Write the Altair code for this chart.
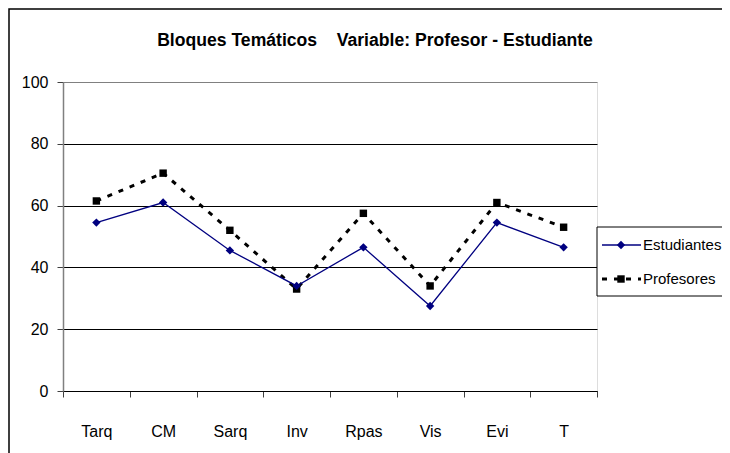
import altair as alt
import pandas as pd

categories = ["Tarq", "CM", "Sarq", "Inv", "Rpas", "Vis", "Evi", "T"]
estudiantes = [54.5, 61, 45.5, 34, 46.5, 27.5, 54.5, 46.5]
profesores = [61.5, 70.5, 52, 33, 57.5, 34, 61, 53]
series_names = ["Estudiantes", "Profesores"]
y_ticks = [0, 20, 40, 60, 80, 100]
title_text = "Bloques Temáticos\u00a0\u00a0\u00a0\u00a0Variable: Profesor - Estudiante"

rows = []
for name, vals in zip(series_names, [estudiantes, profesores]):
    for c, v in zip(categories, vals):
        rows.append({"cat": c, "value": v, "serie": name})
df = pd.DataFrame(rows)
legend_df = pd.DataFrame({"serie": series_names})
title_df = pd.DataFrame({"t": [title_text]})

W, H = 534, 309
FONT = "Liberation Sans"

x_enc = alt.X(
    "cat:N",
    sort=categories,
    scale=alt.Scale(type="band", paddingInner=0, paddingOuter=0),
    axis=alt.Axis(
        title=None,
        labelAngle=0,
        labelFont=FONT,
        labelFontSize=16,
        labelColor="black",
        labelPadding=26,
        tickBand="extent",
        tickSize=6,
        tickColor="#404040",
        domainColor="black",
        domainWidth=1.2,
        grid=False,
    ),
)
y_enc = alt.Y(
    "value:Q",
    scale=alt.Scale(domain=[0, 100], nice=False),
    axis=alt.Axis(
        title=None,
        values=y_ticks,
        labelFont=FONT,
        labelFontSize=16,
        labelColor="black",
        labelPadding=9,
        tickSize=6,
        tickColor="#404040",
        domainColor="#808080",
        domainWidth=1.5,
        grid=True,
        gridColor={"condition": {"test": "datum.value == 100", "value": "#808080"}, "value": "black"},
        gridWidth=1.2,
    ),
)

base = alt.Chart(df)

est_line = base.transform_filter(alt.datum.serie == "Estudiantes").mark_line(
    color="#000080", strokeWidth=1.3
).encode(x=x_enc, y=y_enc)
est_pts = base.transform_filter(alt.datum.serie == "Estudiantes").mark_point(
    shape="diamond", filled=True, color="#000080", size=70, opacity=1
).encode(x=x_enc, y=y_enc)

prof_line = base.transform_filter(alt.datum.serie == "Profesores").mark_line(
    color="black", strokeWidth=3, strokeDash=[5, 7], strokeCap="butt"
).encode(x=x_enc, y=y_enc)
prof_pts = base.transform_filter(alt.datum.serie == "Profesores").mark_point(
    shape="square", filled=True, color="black", size=55, opacity=1
).encode(x=x_enc, y=y_enc)

# outer frame
frame = alt.Chart(title_df).mark_rect(
    fillOpacity=0, stroke="black", strokeWidth=1.5
).encode(x=alt.value(-54), x2=alt.value(760), y=alt.value(-73), y2=alt.value(500))

# title
title = alt.Chart(title_df).mark_text(
    font=FONT, fontSize=17.6, fontWeight="bold", color="black",
    align="center", baseline="alphabetic"
).encode(text="t:N", x=alt.value(312), y=alt.value(-36))

# legend
leg_box = alt.Chart(title_df).mark_rect(
    fill="white", stroke="black", strokeWidth=1
).encode(x=alt.value(534), x2=alt.value(720), y=alt.value(145), y2=alt.value(214))

leg_layers = []
leg_y = {"Estudiantes": 163, "Profesores": 197}
for name in series_names:
    src = alt.Chart(legend_df).transform_filter(alt.datum.serie == name)
    if name == "Estudiantes":
        ln = src.mark_rule(color="#000080", strokeWidth=1.3)
        pt = src.mark_point(shape="diamond", filled=True, color="#000080", size=70, opacity=1)
    else:
        ln = src.mark_rule(color="black", strokeWidth=3, strokeDash=[5, 7], strokeCap="butt")
        pt = src.mark_point(shape="square", filled=True, color="black", size=55, opacity=1)
    leg_layers.append(ln.encode(x=alt.value(539), x2=alt.value(578), y=alt.value(leg_y[name])))
    leg_layers.append(pt.encode(x=alt.value(558), y=alt.value(leg_y[name])))
    leg_layers.append(
        src.mark_text(align="left", baseline="middle", font=FONT, fontSize=15, color="black").encode(
            text="serie:N", x=alt.value(580), y=alt.value(leg_y[name])
        )
    )

chart = alt.layer(
    frame, title, prof_line, est_line, prof_pts, est_pts, leg_box, *leg_layers
).properties(
    width=W,
    height=H,
    padding={"left": 55, "top": 74, "right": 125, "bottom": 62},
    autosize=alt.AutoSizeParams(type="none"),
).configure_view(stroke="#808080", strokeWidth=1.2).configure(background="white")

chart.save("out.html", embed_options={"renderer": "svg", "actions": False})
